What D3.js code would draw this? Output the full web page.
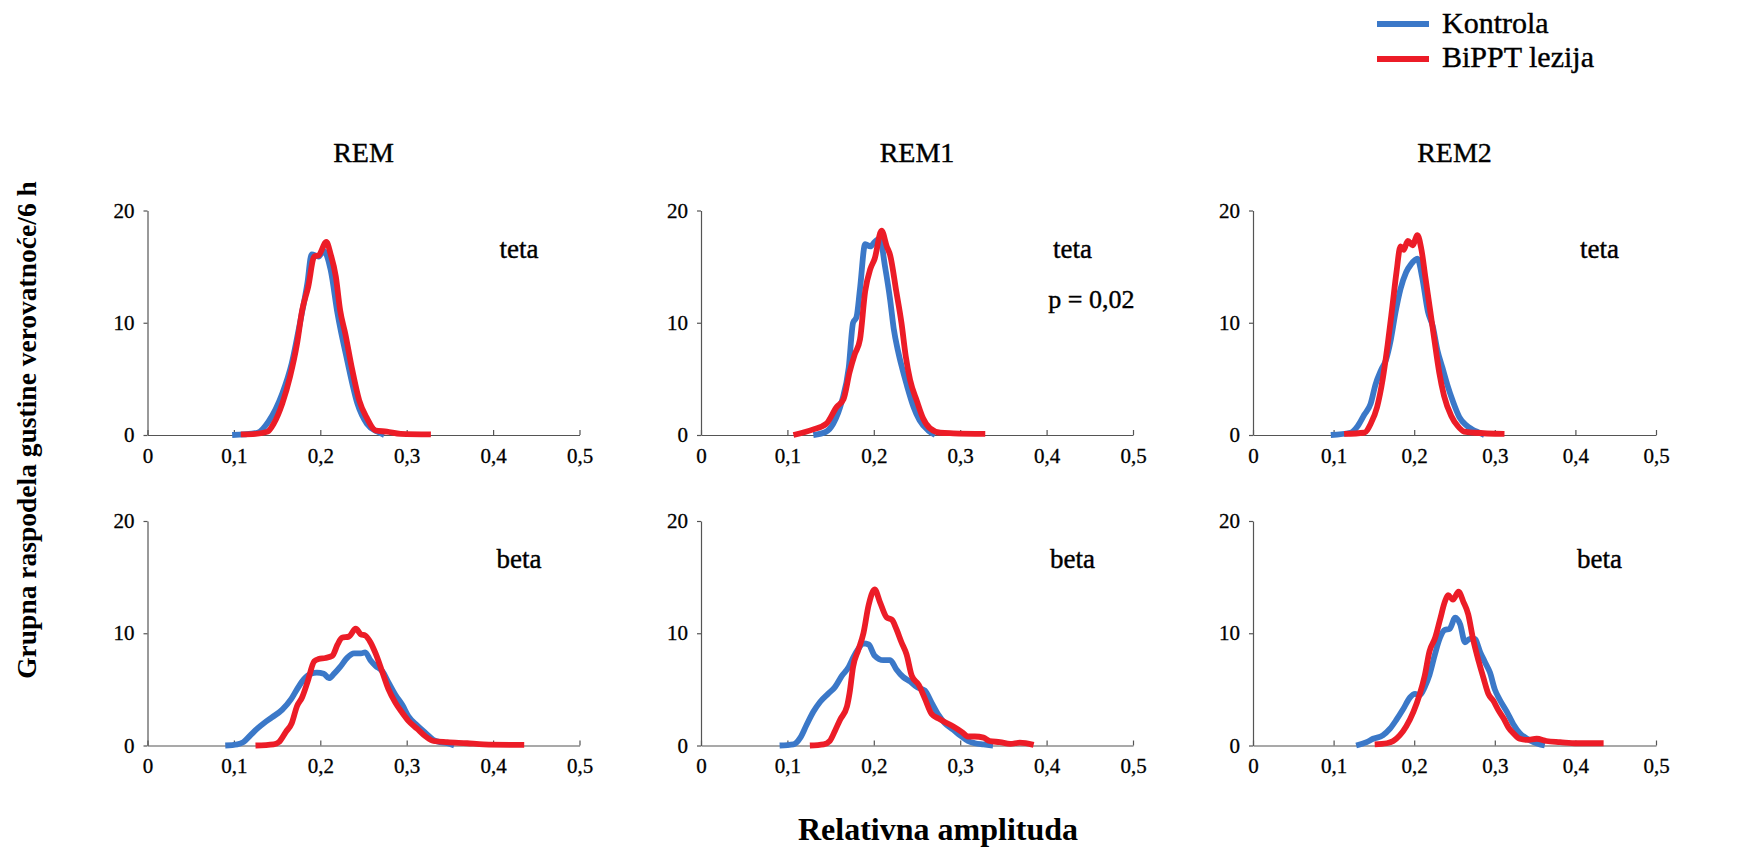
<!DOCTYPE html>
<html>
<head>
<meta charset="utf-8">
<script src="https://cdn.jsdelivr.net/npm/d3@7"></script>
</head>
<body style="margin:0;background:#fff">
<div id="chart-container"></div>
<script>
// Column titles and band names
var stages = ["REM", "REM1", "REM2"];
var bands = ["teta", "beta"];
var seriesNames = ["Kontrola", "BiPPT lezija"];
var xTicks = [0, 0.1, 0.2, 0.3, 0.4, 0.5];
var yTicks = [0, 10, 20];

// Kontrola (blue) curves, [amplitude, density]
var remTetaK = [[0.098,0],[0.127,0.2],[0.140,1.2],[0.156,3.7],[0.167,6.4],[0.177,10.2],[0.185,13.5],[0.190,16.1],[0.198,15.9],[0.204,16.4],[0.212,14.7],[0.220,10.8],[0.231,6.7],[0.243,2.8],[0.254,1.0],[0.266,0.3],[0.274,0]];
var rem1TetaK = [[0.130,0],[0.145,0.3],[0.153,1],[0.163,3],[0.171,6],[0.176,10],[0.180,10.5],[0.184,13],[0.190,17],[0.196,16.8],[0.201,17.2],[0.207,17.5],[0.213,15],[0.219,12],[0.223,9.5],[0.228,7.5],[0.232,6.2],[0.238,4.5],[0.246,2.5],[0.253,1.3],[0.263,0.4],[0.271,0]];
var rem2TetaK = [[0.0965,0],[0.121,0.2],[0.130,0.8],[0.138,1.8],[0.146,2.8],[0.152,4.5],[0.159,5.8],[0.165,6.7],[0.171,8.5],[0.177,11],[0.183,13],[0.190,14.5],[0.196,15.2],[0.204,15.7],[0.210,14],[0.217,11],[0.223,9.7],[0.229,7.5],[0.235,6],[0.241,4.5],[0.248,3],[0.256,1.6],[0.264,0.9],[0.272,0.5],[0.281,0.2],[0.287,0]];
var remBetaK = [[0.090,0],[0.104,0.1],[0.111,0.3],[0.119,0.9],[0.127,1.5],[0.135,2.0],[0.144,2.5],[0.156,3.2],[0.166,4.1],[0.173,5.0],[0.181,5.9],[0.189,6.4],[0.196,6.5],[0.204,6.4],[0.210,6.0],[0.216,6.4],[0.223,7.0],[0.231,7.8],[0.239,8.2],[0.247,8.2],[0.252,8.3],[0.258,7.6],[0.264,7.1],[0.272,6.6],[0.279,5.6],[0.287,4.5],[0.295,3.6],[0.302,2.6],[0.312,1.8],[0.322,1.1],[0.331,0.5],[0.339,0.3],[0.347,0.2],[0.355,0]];
var rem1BetaK = [[0.091,0],[0.107,0.1],[0.115,0.7],[0.122,1.8],[0.130,3],[0.138,3.9],[0.147,4.6],[0.155,5.2],[0.163,6.2],[0.171,7.0],[0.176,7.8],[0.182,8.6],[0.188,9.1],[0.194,9.0],[0.201,8.0],[0.211,7.6],[0.219,7.6],[0.226,6.8],[0.234,6.1],[0.242,5.7],[0.250,5.2],[0.259,4.9],[0.267,3.8],[0.275,2.7],[0.282,2.0],[0.292,1.4],[0.300,0.9],[0.309,0.4],[0.317,0.2],[0.327,0.1],[0.338,0]];
var rem2BetaK = [[0.128,0],[0.141,0.3],[0.149,0.6],[0.161,0.9],[0.170,1.5],[0.178,2.3],[0.186,3.2],[0.195,4.3],[0.201,4.6],[0.207,4.5],[0.213,5.2],[0.219,6.3],[0.226,8.2],[0.232,9.6],[0.238,10.3],[0.244,10.4],[0.251,11.4],[0.257,10.8],[0.263,9.2],[0.269,9.5],[0.275,9.5],[0.282,8.3],[0.288,7.4],[0.294,6.5],[0.300,5.0],[0.306,4.1],[0.315,3.0],[0.323,1.9],[0.331,1.1],[0.340,0.6],[0.348,0.3],[0.356,0.1],[0.362,0]];

// BiPPT lezija (red) curves
var remTetaL = [[0.108,0.05],[0.125,0.1],[0.139,0.3],[0.146,1.0],[0.156,2.8],[0.165,5.2],[0.173,8.1],[0.179,11.1],[0.186,13.2],[0.193,15.9],[0.198,16.0],[0.207,17.2],[0.212,16.1],[0.218,14.1],[0.223,11.1],[0.229,9.0],[0.237,5.8],[0.245,3.1],[0.254,1.5],[0.264,0.4],[0.277,0.3],[0.293,0.1],[0.328,0.05]];
var rem1TetaL = [[0.107,0],[0.130,0.5],[0.145,1],[0.157,2.5],[0.165,3.2],[0.172,5.6],[0.178,7.2],[0.184,8.5],[0.190,12.8],[0.196,14.8],[0.201,15.7],[0.209,18.2],[0.215,16.8],[0.219,16],[0.226,12.8],[0.232,10],[0.237,7],[0.242,4.9],[0.250,3],[0.257,1.5],[0.265,0.6],[0.277,0.2],[0.292,0.15],[0.329,0.1]];
var rem2TetaL = [[0.113,0.1],[0.138,0.2],[0.146,1],[0.154,2.5],[0.161,5],[0.167,8],[0.173,11.5],[0.178,14.5],[0.183,16.8],[0.187,16.5],[0.192,17.3],[0.198,16.9],[0.204,17.8],[0.209,16.5],[0.214,14],[0.220,11],[0.225,8.5],[0.231,5.6],[0.237,3.5],[0.246,1.7],[0.254,0.8],[0.262,0.3],[0.275,0.2],[0.312,0.1]];
var remBetaL = [[0.125,0],[0.146,0.1],[0.152,0.3],[0.160,1.2],[0.167,2],[0.173,3.5],[0.179,4.3],[0.185,5.6],[0.193,7.5],[0.198,7.7],[0.206,7.8],[0.214,8.0],[0.220,9.0],[0.225,9.6],[0.233,9.7],[0.241,10.4],[0.247,9.9],[0.252,9.8],[0.258,9.2],[0.264,8.2],[0.272,6.5],[0.279,5.0],[0.287,3.8],[0.295,2.9],[0.302,2.2],[0.312,1.5],[0.322,0.8],[0.331,0.4],[0.347,0.3],[0.370,0.2],[0.389,0.1],[0.436,0.05]];
var rem1BetaL = [[0.126,0],[0.142,0.1],[0.149,0.4],[0.155,1.3],[0.161,2.3],[0.169,3.5],[0.172,4.7],[0.176,7],[0.182,8.5],[0.188,10],[0.194,12.5],[0.201,13.9],[0.207,12.8],[0.215,11.4],[0.221,11.2],[0.226,10.4],[0.232,9.2],[0.238,8.1],[0.244,6.2],[0.252,5.4],[0.259,4.2],[0.267,2.8],[0.275,2.4],[0.282,2.1],[0.292,1.7],[0.302,1.2],[0.309,0.8],[0.317,0.8],[0.327,0.7],[0.334,0.4],[0.346,0.3],[0.358,0.15],[0.369,0.25],[0.385,0.05]];
var rem2BetaL = [[0.151,0.1],[0.166,0.2],[0.174,0.4],[0.182,0.9],[0.190,1.7],[0.199,3],[0.207,4.6],[0.213,6.2],[0.219,8.4],[0.226,9.6],[0.232,11.2],[0.238,12.8],[0.242,13.4],[0.248,13],[0.255,13.7],[0.261,12.8],[0.267,11.7],[0.273,9.5],[0.280,7.5],[0.286,6.0],[0.292,4.6],[0.298,4.0],[0.304,3.2],[0.311,2.4],[0.317,1.6],[0.323,1.1],[0.331,0.6],[0.340,0.5],[0.352,0.6],[0.364,0.4],[0.381,0.3],[0.402,0.2],[0.435,0.2]];

var kontrola = [[remTetaK, rem1TetaK, rem2TetaK], [remBetaK, rem1BetaK, rem2BetaK]];
var lezija = [[remTetaL, rem1TetaL, rem2TetaL], [remBetaL, rem1BetaL, rem2BetaL]];

var colors = ["#3b78c8", "#ec1c27"];
var FONT = "Liberation Serif";

// Panel layout (pixels)
var colLeft = [147.5, 701, 1253];
var colWidth = [432, 432, 403];
var rowTop = [210.5, 521];
var rowHeight = 224.5;

var svg = d3.select("#chart-container")
  .append("svg")
  .attr("width", 1749)
  .attr("height", 848);

// put a serif text on the svg (thin stroke to match the heavier scan)
function label(x, y, size, str) {
  return svg.append("text")
    .attr("x", x)
    .attr("y", y)
    .attr("font-family", FONT)
    .attr("font-size", size)
    .attr("fill", "#000")
    .attr("stroke", "#000")
    .attr("stroke-width", 0.4)
    .text(str);
}

function styleAxis(g) {
  g.attr("font-family", FONT).attr("font-size", 21);
  g.selectAll("path, line").attr("stroke", "#555").attr("stroke-width", 1.2);
  g.selectAll("text")
    .attr("font-family", FONT)
    .attr("fill", "#000")
    .attr("stroke", "#000")
    .attr("stroke-width", 0.3);
}

var fmt = function(d) { return d === 0 ? "0" : d3.format(".1f")(d).replace(".", ","); };

var line = d3.line().curve(d3.curveMonotoneX);

for (var r = 0; r < 2; r++) {
  for (var c = 0; c < 3; c++) {
    var x = d3.scaleLinear().domain([0, 0.5]).range([colLeft[c], colLeft[c] + colWidth[c]]);
    var y = d3.scaleLinear().domain([0, 20]).range([rowTop[r] + rowHeight, rowTop[r]]);

    // x axis, ticks pointing up
    svg.append("g")
      .attr("transform", "translate(0," + y(0) + ")")
      .call(d3.axisBottom(x).tickValues(xTicks).tickFormat(fmt)
        .tickSizeInner(-5).tickSizeOuter(0).tickPadding(13))
      .call(styleAxis);

    // y axis
    svg.append("g")
      .attr("transform", "translate(" + x(0) + ",0)")
      .call(d3.axisLeft(y).tickValues(yTicks).tickSizeInner(4).tickSizeOuter(0).tickPadding(9))
      .call(styleAxis);

    // curves: control first, lesion on top
    [kontrola[r][c], lezija[r][c]].forEach(function(data, i) {
      line.x(function(d) { return x(d[0]); }).y(function(d) { return y(d[1]); });
      svg.append("path")
        .datum(data)
        .attr("fill", "none")
        .attr("stroke", colors[i])
        .attr("stroke-width", 5.8)
        .attr("stroke-linejoin", "round")
        .attr("d", line);
    });

    // band label
    label(x(0.43), rowTop[r] + 47, 27, bands[r]).attr("text-anchor", "middle");

    if (r === 0) {
      label(x(0.25), 162, 28, stages[c]).attr("text-anchor", "middle");
    }
    if (r === 0 && c === 1) {
      label(x(0.402), rowTop[r] + 97, 26, "p = 0,02");
    }
  }
}

// Legend
seriesNames.forEach(function(name, i) {
  svg.append("line")
    .attr("x1", 1377).attr("x2", 1429)
    .attr("y1", 24 + i * 35).attr("y2", 24 + i * 35)
    .attr("stroke", colors[i])
    .attr("stroke-width", 6);
  label(1442, 33 + i * 34, 30, name);
});

// Axis titles
svg.append("text")
  .attr("x", 938)
  .attr("y", 840)
  .attr("text-anchor", "middle")
  .attr("font-family", FONT)
  .attr("font-size", 32)
  .attr("font-weight", "bold")
  .text("Relativna amplituda");

svg.append("text")
  .attr("transform", "translate(36,430) rotate(-90)")
  .attr("text-anchor", "middle")
  .attr("font-family", FONT)
  .attr("font-size", 27.5)
  .attr("font-weight", "bold")
  .text("Grupna raspodela gustine verovatnoće/6 h");
</script>
</body>
</html>
